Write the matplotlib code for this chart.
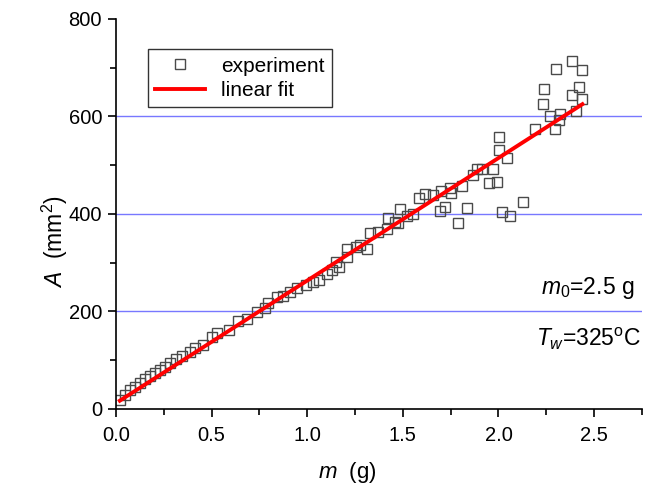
import numpy as np
import matplotlib
matplotlib.use('Agg')
import matplotlib.pyplot as plt
from matplotlib.ticker import MultipleLocator, FormatStrFormatter

plt.rcParams['font.family'] = ['Liberation Sans', 'DejaVu Sans']
plt.rcParams['mathtext.fontset'] = 'custom'
plt.rcParams['mathtext.rm'] = 'Liberation Sans'
plt.rcParams['mathtext.it'] = 'Liberation Sans:italic'

# measured mass (g) vs area (mm^2)
m_exp = [0.02, 0.047, 0.073, 0.099, 0.125, 0.152, 0.178, 0.204, 0.229, 0.256,
         0.282, 0.314, 0.344, 0.386, 0.412, 0.455, 0.50, 0.528, 0.592, 0.637,
         0.683, 0.736, 0.779, 0.796, 0.840, 0.874, 0.910, 0.947, 0.996, 1.032,
         1.063, 1.101, 1.127, 1.150, 1.167, 1.206, 1.206, 1.257, 1.275, 1.314,
         1.328, 1.371, 1.415, 1.425, 1.458, 1.476, 1.484, 1.520, 1.554, 1.586,
         1.615, 1.659, 1.693, 1.702, 1.720, 1.746, 1.754, 1.791, 1.812, 1.838,
         1.865, 1.886, 1.912, 1.949, 1.972, 1.990, 2.002, 2.002, 2.021, 2.047,
         2.060, 2.128, 2.190, 2.233, 2.238, 2.268, 2.298, 2.300, 2.315, 2.321,
         2.386, 2.387, 2.405, 2.421, 2.437, 2.439]
A_exp = [18, 29, 39, 45, 54, 61, 68, 74, 80, 87,
         95, 102, 109, 116, 125, 131, 148, 156, 162, 180,
         184, 198, 208, 217, 229, 232, 239, 249, 254, 261,
         265, 277, 284, 302, 291, 311, 329, 333, 337, 328,
         360, 362, 370, 391, 384, 382, 410, 396, 400, 433,
         440, 439, 407, 448, 414, 453, 442, 381, 458, 412,
         480, 493, 493, 463, 493, 465, 532, 557, 404, 514,
         395, 424, 574, 625, 657, 601, 574, 697, 592, 605,
         713, 643, 612, 660, 695, 635]

# linear fit end points
m_fit = [0.02, 2.439]
A_fit = [17, 625]

fig = plt.figure(figsize=(6.59, 4.84), dpi=100)
ax = fig.add_axes([0.176, 0.155, 0.798, 0.806])

for yg in [200, 400, 600]:
    ax.axhline(yg, color='#7878ff', lw=1.0, zorder=0)

ax.plot(m_exp, A_exp, ls='none', marker='s', ms=6.5, mfc='none',
        mec='#4a4a4a', mew=1.0, label='experiment', zorder=2)
ax.plot(m_fit, A_fit, color='#ff0000', lw=2.8, label='linear fit', zorder=3)

ax.set_xlim(0, 2.75)
ax.set_ylim(0, 800)
ax.xaxis.set_major_locator(MultipleLocator(0.5))
ax.xaxis.set_minor_locator(MultipleLocator(0.25))
ax.yaxis.set_major_locator(MultipleLocator(200))
ax.yaxis.set_minor_locator(MultipleLocator(100))
ax.xaxis.set_major_formatter(FormatStrFormatter('%.1f'))
ax.spines['top'].set_visible(False)
ax.spines['right'].set_visible(False)
for s in ['left', 'bottom']:
    ax.spines[s].set_linewidth(1.2)
ax.tick_params(which='major', direction='out', length=6, width=1.2,
               labelsize=14.5, pad=4)
ax.tick_params(axis='x', which='major', pad=6)
ax.tick_params(which='minor', direction='out', length=4, width=1.2)

ax.set_xlabel('$m$  (g)', fontsize=16)
ax.set_ylabel('$A$  (mm$^2$)', fontsize=16.5)
ax.xaxis.set_label_coords(0.44, -0.13)
ax.yaxis.set_label_coords(-0.088, 0.43)

leg = ax.legend(loc='upper left', bbox_to_anchor=(0.06, 0.922), fontsize=15,
                frameon=True, fancybox=False, edgecolor='black',
                handlelength=2.4, handletextpad=0.8, borderpad=0.35,
                borderaxespad=0, labelspacing=0.25)
leg.get_frame().set_linewidth(1.0)

ax.text(0.985, 0.31, '$m_{\\mathit{0}}$=2.5 g', transform=ax.transAxes,
        ha='right', va='center', fontsize=16.5)
ax.text(0.998, 0.18, '$T_w$=325$^{\\mathrm{o}}$C', transform=ax.transAxes,
        ha='right', va='center', fontsize=16.5)

fig.savefig('out.png', dpi=100)
